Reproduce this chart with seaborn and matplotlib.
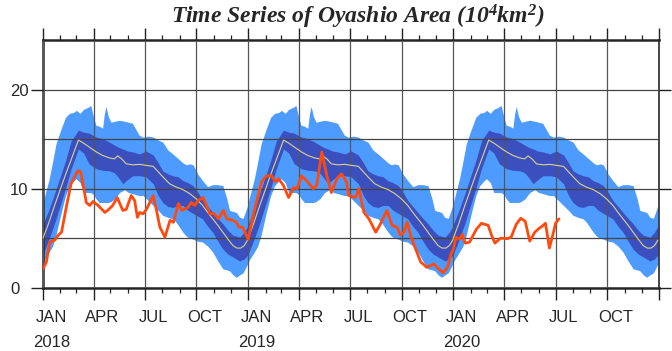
import numpy as np
import pandas as pd
import matplotlib
matplotlib.use("Agg")
import matplotlib.pyplot as plt
import matplotlib.dates as mdates
import seaborn as sns

# climatology (same every year)
clim_day = [0, 10, 20, 30, 40, 50, 63, 72, 82, 95, 106, 118, 127, 133, 140, 148, 160, 172,
            183, 196, 205, 213, 225, 237, 249, 261, 273, 284, 293, 302, 311, 320, 329, 338,
            345, 352, 358, 364]
clim_mean = [5.0, 6.5, 8.2, 9.8, 11.4, 12.9, 14.9, 14.6, 14.2, 13.7, 13.35, 13.1, 13.0, 13.3,
             13.0, 12.5, 12.4, 12.45, 12.35, 12.25, 11.7, 11.2, 10.5, 10.15, 9.9, 9.5, 8.95,
             8.3, 7.6, 6.95, 6.3, 5.6, 4.9, 4.25, 4.0, 4.0, 4.25, 4.8]

sd_day = [0, 10, 20, 30, 40, 50, 63, 72, 82, 95, 106, 118, 127, 133, 142, 150, 160, 172, 183,
          196, 205, 213, 222, 231, 240, 249, 258, 267, 276, 284, 293, 302, 311, 320, 329, 338,
          350, 358, 364]
sd_lo = [3.4, 4.8, 6.4, 8.2, 10.0, 12.0, 14.0, 13.6, 12.5, 12.0, 11.85, 11.8, 11.6, 11.2, 10.5,
         10.9, 11.3, 11.3, 11.2, 10.5, 9.3, 8.6, 8.2, 8.1, 8.3, 8.3, 7.8, 7.5, 7.2, 6.95, 6.2,
         5.6, 4.7, 3.9, 3.4, 3.1, 2.7, 2.9, 3.3]
sd_hi = [6.4, 7.8, 9.4, 11.1, 12.8, 14.8, 15.9, 15.7, 15.6, 15.2, 15.05, 14.7, 14.4, 14.2, 14.0,
         13.8, 13.7, 13.5, 13.8, 13.4, 12.6, 11.8, 11.5, 11.3, 11.2, 10.8, 10.6, 10.3, 9.6, 8.8,
         8.2, 7.6, 7.0, 6.45, 5.8, 5.3, 5.1, 5.6, 6.2]

rng_day = [0, 11, 17, 23, 32, 40, 47, 55, 59, 66, 72, 80, 85, 90, 94, 100, 106, 109, 112, 116,
           121, 128, 136, 145, 152, 159, 165, 171, 178, 187, 196, 205, 213, 222, 231, 237, 249,
           255, 261, 267, 275, 284, 293, 302, 311, 320, 327, 332, 338, 344, 350, 356, 364]
rng_lo = [2.6, 3.6, 4.2, 5.3, 7.5, 9.3, 10.3, 10.8, 11.0, 10.6, 9.6, 9.6, 9.6, 9.4, 9.0, 8.6,
          8.6, 8.6, 8.6, 8.6, 8.7, 9.0, 9.6, 9.9, 9.6, 9.5, 9.4, 9.3, 9.3, 8.8, 8.3, 7.8, 7.3,
          7.1, 6.95, 6.6, 5.6, 5.2, 5.0, 4.9, 4.7, 4.6, 4.2, 3.6, 2.7, 1.9, 1.8, 1.7, 1.3, 1.05,
          1.3, 1.5, 2.4]
rng_hi = [8.6, 11.0, 12.7, 14.5, 16.0, 17.2, 17.6, 17.7, 17.9, 17.6, 18.0, 18.2, 18.4, 17.2,
          16.4, 16.3, 16.1, 17.5, 18.3, 17.3, 16.7, 16.8, 16.9, 16.8, 16.7, 16.6, 16.0, 15.4,
          15.2, 15.3, 15.2, 14.9, 14.7, 13.9, 13.5, 13.2, 12.6, 12.4, 12.5, 12.4, 11.5, 10.8,
          10.2, 10.4, 10.4, 10.3, 9.0, 7.8, 7.7, 7.6, 7.1, 7.0, 8.3]

years = [2018, 2019, 2020]

# observed Oyashio area
obs_dates = [
    "2018-01-01", "2018-01-07", "2018-01-13", "2018-01-22", "2018-01-28", "2018-02-03",
    "2018-02-12", "2018-02-20", "2018-03-04", "2018-03-09", "2018-03-13", "2018-03-19",
    "2018-03-25", "2018-03-31", "2018-04-09", "2018-04-21", "2018-04-26", "2018-05-05",
    "2018-05-13", "2018-05-23", "2018-05-29", "2018-06-07", "2018-06-13", "2018-06-18",
    "2018-06-22", "2018-06-28", "2018-07-04", "2018-07-16", "2018-07-22", "2018-07-28",
    "2018-08-06", "2018-08-15", "2018-08-21", "2018-08-30", "2018-09-05", "2018-09-16",
    "2018-09-22", "2018-09-28", "2018-10-04", "2018-10-13", "2018-10-19", "2018-10-25",
    "2018-11-01", "2018-11-09", "2018-11-18", "2018-11-24", "2018-12-05", "2018-12-11",
    "2018-12-16", "2018-12-22", "2018-12-29",
    "2019-01-01", "2019-01-13", "2019-01-25", "2019-02-03", "2019-02-12", "2019-02-18",
    "2019-02-24", "2019-03-05", "2019-03-14", "2019-03-23", "2019-03-29", "2019-04-06",
    "2019-04-15", "2019-04-27", "2019-05-03", "2019-05-12", "2019-05-21", "2019-05-29",
    "2019-06-08", "2019-06-16", "2019-06-25", "2019-06-29", "2019-07-11", "2019-07-17",
    "2019-07-26", "2019-08-04", "2019-08-16", "2019-08-24", "2019-09-05", "2019-09-14",
    "2019-09-23", "2019-09-29", "2019-10-05", "2019-10-11", "2019-10-17", "2019-10-26",
    "2019-11-04", "2019-11-15", "2019-11-27", "2019-12-06", "2019-12-14", "2019-12-22",
    "2019-12-28",
    "2020-01-01", "2020-01-06", "2020-01-12", "2020-01-17", "2020-01-22", "2020-01-30",
    "2020-02-11", "2020-02-20", "2020-03-03", "2020-03-09", "2020-03-15", "2020-03-25",
    "2020-04-06", "2020-04-13", "2020-04-22", "2020-04-30", "2020-05-08", "2020-05-16",
    "2020-05-25", "2020-06-02", "2020-06-07", "2020-06-13", "2020-06-20", "2020-06-26",
    "2020-07-01", "2020-07-07",
]
obs_area = [
    1.9, 2.6, 4.6, 4.8, 5.3, 5.6, 8.3, 10.5, 11.8, 11.7, 10.5, 8.6, 8.3, 8.7, 8.3, 7.6, 7.8,
    8.3, 9.1, 7.8, 7.9, 9.3, 8.8, 7.1, 7.6, 7.45, 7.9, 9.3, 7.8, 6.1, 5.1, 6.8, 6.6, 8.5, 7.8,
    8.1, 8.6, 8.3, 8.8, 9.1, 8.3, 7.45, 7.5, 6.95, 7.8, 6.95, 6.8, 6.6, 6.1, 6.1, 5.3,
    4.9, 8.0, 10.7, 11.3, 11.3, 10.7, 11.0, 10.3, 9.1, 10.1, 10.0, 11.3, 10.8, 10.0, 10.3,
    13.7, 11.3, 9.6, 11.0, 11.5, 10.7, 9.3, 9.1, 10.0, 7.6, 6.95, 5.6, 6.4, 7.8, 6.3, 6.1,
    5.3, 5.6, 6.6, 5.3, 3.9, 2.6, 2.05, 2.4, 1.9, 1.5, 2.1, 3.4,
    3.9, 5.1, 4.9, 5.4, 4.5, 4.6, 5.9, 6.5, 6.3, 5.3, 4.5, 5.0, 4.95, 5.1, 6.4, 7.0, 6.7,
    4.7, 5.6, 6.0, 6.2, 6.5, 4.0, 5.3, 6.5, 6.95,
]

month_names = ["JAN", "APR", "JUL", "OCT"]


def tile_years(days, *cols):
    """repeat a day-of-year climatology over all plotted years"""
    frames = []
    for y in years:
        d = pd.Timestamp(f"{y}-01-01") + pd.to_timedelta(days, unit="D")
        frames.append(pd.DataFrame({"date": d, **{f"v{i}": c for i, c in enumerate(cols)}}))
    return pd.concat(frames, ignore_index=True)


sns.set_style("ticks")
plt.rcParams["font.family"] = ["Liberation Sans", "DejaVu Sans"]
plt.rcParams["mathtext.fontset"] = "custom"
plt.rcParams["mathtext.rm"] = "Liberation Serif:bold:italic"
plt.rcParams["mathtext.it"] = "Liberation Serif:bold:italic"
plt.rcParams["mathtext.bf"] = "Liberation Serif:bold:italic"

fig = plt.figure(figsize=(6.72, 3.51), dpi=100)
ax = fig.add_axes([43 / 672, 1 - 287.7 / 351, 616 / 672, 247.7 / 351])

rng = tile_years(rng_day, rng_lo, rng_hi)
sd = tile_years(sd_day, sd_lo, sd_hi)
mn = tile_years(clim_day, clim_mean)
obs = pd.DataFrame({"date": pd.to_datetime(obs_dates), "area": obs_area})

ax.fill_between(rng["date"], rng["v0"], rng["v1"], color="#4d9bff", lw=0, zorder=1)
ax.fill_between(sd["date"], sd["v0"], sd["v1"], color="#3c4fbf", lw=0, zorder=1.2)
sns.lineplot(data=mn, x="date", y="v0", ax=ax, color="#d8d48c", lw=0.8, zorder=3)
sns.lineplot(data=obs, x="date", y="area", ax=ax, color="#ff4a0f", lw=2.0, zorder=4)

ax.set_xlim(pd.Timestamp("2018-01-01"), pd.Timestamp("2021-01-01"))
ax.set_ylim(0, 25)
ax.set_xlabel("")
ax.set_ylabel("")

# axis ticks
ax.xaxis.set_major_locator(mdates.MonthLocator(bymonth=[1, 4, 7, 10]))
ax.xaxis.set_minor_locator(mdates.MonthLocator())
ax.xaxis.set_major_formatter(plt.NullFormatter())
ax.set_yticks([0, 10, 20])
ax.set_yticks([5, 15], minor=True)
ax.tick_params(axis="x", which="major", direction="out", length=8.6, width=1.0,
               top=True, bottom=True, color="#222222")
ax.tick_params(axis="x", which="minor", direction="out", length=3.8, width=0.9,
               top=True, bottom=True, color="#222222")
ax.tick_params(axis="y", which="major", direction="out", length=8.6, width=1.0,
               left=True, right=True, labelsize=12, pad=15, color="#222222")
ax.tick_params(axis="y", which="minor", length=0)
for lab in ax.get_yticklabels():
    lab.set_horizontalalignment("left")

ax.grid(True, which="major", axis="x", color="#555555", lw=0.9)
ax.grid(True, which="both", axis="y", color="#444444", lw=0.9)
ax.set_axisbelow(False)

for side in ["top", "bottom", "left"]:
    ax.spines[side].set_linewidth(1.8)
ax.spines["right"].set_linewidth(1.2)

# month / year labels in the middle of the month
for y in years:
    for k, m in enumerate(month_names):
        x = pd.Timestamp(f"{y}-{3 * k + 1:02d}-16")
        ax.text(x, -0.122, m, transform=ax.get_xaxis_transform(), ha="center",
                va="center", fontsize=12)
    ax.text(pd.Timestamp(f"{y}-01-16"), -0.222, str(y), transform=ax.get_xaxis_transform(),
            ha="center", va="center", fontsize=12)

fig.text(0.533, 0.951, "Time Series of Oyashio Area (10$^4$km$^2$)", ha="center",
         va="center", fontsize=17, fontweight="bold", fontstyle="italic",
         family="Liberation Serif")

fig.savefig("out.png", dpi=100)
